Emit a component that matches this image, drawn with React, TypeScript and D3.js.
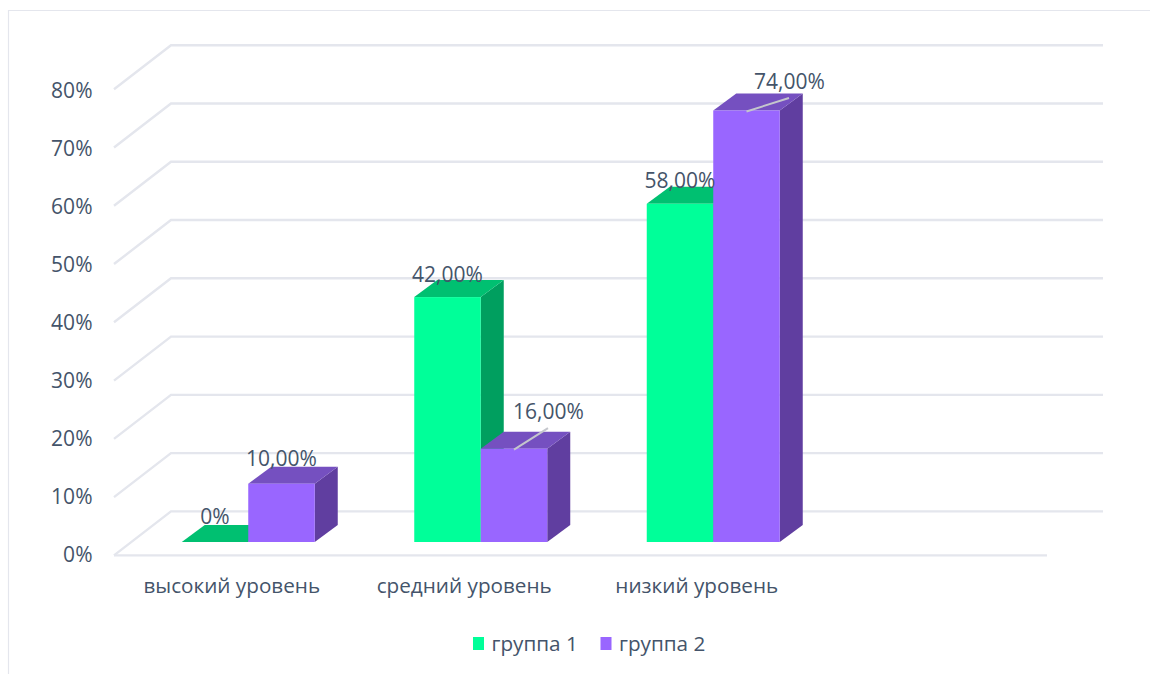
import React from "react";
import * as d3 from "d3";

const categories = ["высокий уровень", "средний уровень", "низкий уровень"];
const blankCategory = "";
const seriesNames = ["группа 1", "группа 2"];
const group1 = [0, 42, 58];
const group2 = [10, 16, 74];
const yTicks = [0, 10, 20, 30, 40, 50, 60, 70, 80];
const group1Labels = ["0%", "42,00%", "58,00%"];
const group2Labels = ["10,00%", "16,00%", "74,00%"];

const W = 1150, H = 674;
const FONT = "'Open Sans', sans-serif";
const TEXT = "#44546a";
const GRID = "#e4e6ed";
const BAR_W = 66.5;
const BAR_DX = 23, BAR_DY = 17;
const FLOOR_DX = 57, FLOOR_DY = 44;
const colors = [
  { front: "#00ff99", top: "#00c071", side: "#009f5f" },
  { front: "#9966ff", top: "#7550c0", side: "#603ea0" },
];
// label offsets from the bar's front-top centre
const labelOffsets = [
  [[0, -26], [0, -22.5], [0, -23.5]],
  [[0, -25.5], [34.5, -37.5], [43, -29.5]],
];
const leaderFlags = [[false, false, false], [false, true, true]];

export default function App() {
  const x = d3.scaleBand<string>()
    .domain([...categories, blankCategory])
    .range([132, 1062]);
  const yGrid = d3.scaleLinear().domain([0, 80]).range([555.4, 89.2]);
  const yTickText = d3.scaleLinear().domain([0, 80]).range([554, 90]);
  const yBar = d3.scaleLinear().domain([0, 80]).range([542, 75.5]);
  const seriesValues = [group1, group2];
  const seriesLabels = [group1Labels, group2Labels];
  const poly = (pts: number[][]) => pts.map((p) => p.join(",")).join(" ");

  return (
    <svg width={W} height={H} style={{ position: "absolute", left: 0, top: 0, background: "#fff" }} fontFamily={FONT}>
      <path d={`M8.5,${H} V10.5 H${W}`} fill="none" stroke={GRID} strokeWidth={1.2} />
      {yTicks.map((t) => {
        const y = yGrid(t);
        const bx = 114 + FLOOR_DX, by = y - FLOOR_DY;
        return (
          <g key={t}>
            <path d={`M114,${y} L${bx},${by} H1103`} fill="none" stroke={GRID} strokeWidth={2.4} />
            <text x={92.5} y={yTickText(t)} dy="0.36em" textAnchor="end" fontSize={21} fill={TEXT}>{t}%</text>
          </g>
        );
      })}
      <line x1={114} x2={1047} y1={yGrid(0)} y2={yGrid(0)} stroke={GRID} strokeWidth={2.4} />
      {seriesValues.map((vals, s) =>
        vals.map((v, i) => {
          const cx = x(categories[i])! + x.bandwidth() / 2;
          const x0 = s === 0 ? cx - BAR_W : cx;
          const x1 = x0 + BAR_W;
          const yt = yBar(v), yb = yBar(0);
          const c = colors[s];
          return (
            <g key={`${s}-${i}`}>
              <polygon points={poly([[x1, yb], [x1 + BAR_DX, yb - BAR_DY], [x1 + BAR_DX, yt - BAR_DY], [x1, yt]])} fill={c.side} />
              <polygon points={poly([[x0, yt], [x0 + BAR_DX, yt - BAR_DY], [x1 + BAR_DX, yt - BAR_DY], [x1, yt]])} fill={c.top} />
              <rect x={x0} y={yt} width={BAR_W} height={yb - yt} fill={c.front} />
            </g>
          );
        })
      )}
      {seriesValues.map((vals, s) =>
        vals.map((v, i) => {
          const cx = x(categories[i])! + x.bandwidth() / 2;
          const mid = s === 0 ? cx - BAR_W / 2 : cx + BAR_W / 2;
          const yt = yBar(v);
          const [dx, dy] = labelOffsets[s][i];
          return (
            <g key={`l${s}-${i}`}>
              {leaderFlags[s][i] && (
                <line x1={mid} y1={yt + 1} x2={mid + dx - 0.5} y2={yt + dy + 17} stroke="#c4c6cc" strokeWidth={2} />
              )}
              <text x={mid + dx} y={yt + dy} dy="0.36em" textAnchor="middle" fontSize={21} fill={TEXT}>
                {seriesLabels[s][i]}
              </text>
            </g>
          );
        })
      )}
      {categories.map((c) => (
        <text key={c} x={x(c)! + x.bandwidth() / 2 - 16.5} y={586} dy="0.36em" textAnchor="middle" fontSize={20.7} fill={TEXT}>{c}</text>
      ))}
      {seriesNames.map((n, i) => {
        const lx = 473 + i * 127.5;
        return (
          <g key={n}>
            <rect x={lx} y={637} width={11} height={13} fill={colors[i].front} />
            <text x={lx + 18.5} y={644} dy="0.36em" fontSize={20.7} fill={TEXT}>{n}</text>
          </g>
        );
      })}
    </svg>
  );
}
